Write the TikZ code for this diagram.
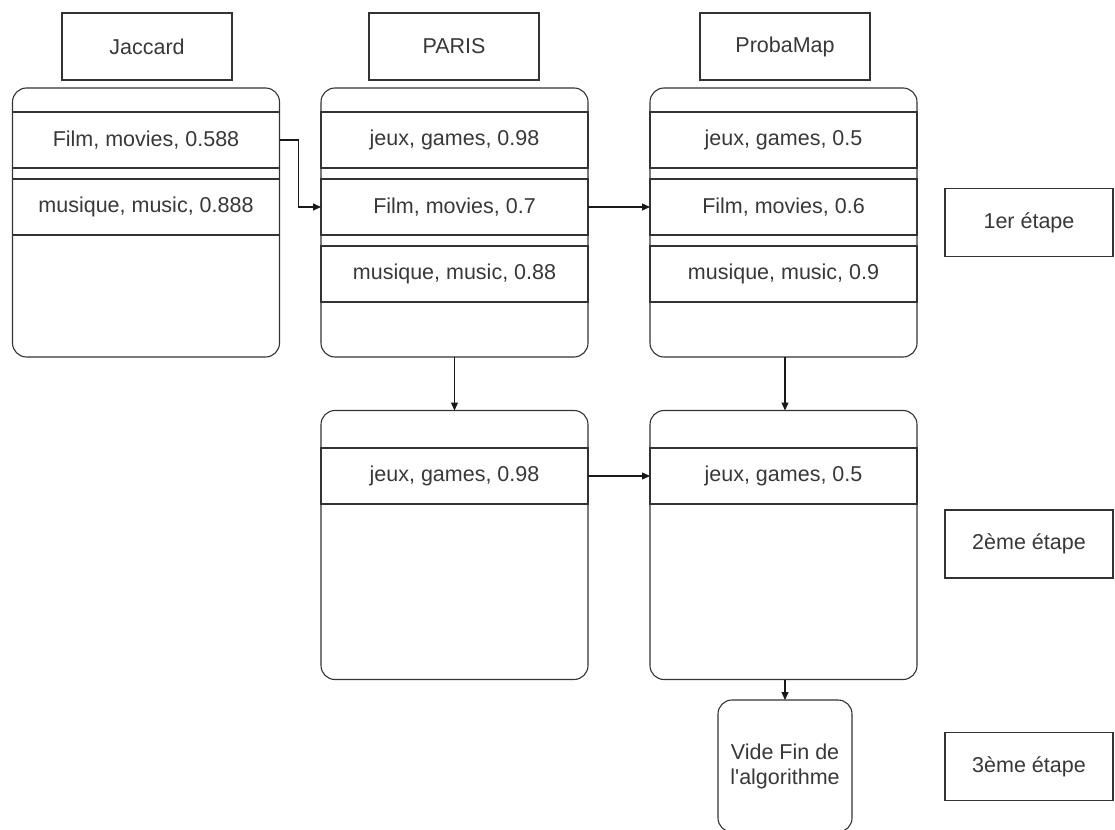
\documentclass[tikz,border=0pt]{standalone}
\usepackage{fontspec}
\setmainfont{Liberation Sans}[Ligatures=TeXOff]
\usetikzlibrary{arrows.meta}
\begin{document}
\begin{tikzpicture}[x=1pt,y=-1pt,
  every node/.style={inner sep=0pt, outer sep=0pt, text=black!78,
    font=\fontsize{21.5}{25}\selectfont, align=center},
  hdr/.style={draw=black!80, line width=1.1pt, minimum width=170pt, minimum height=67pt},
  panel/.style={draw=black!80, line width=1.1pt, rounded corners=14pt,
    minimum width=267pt, minimum height=269pt},
  row/.style={draw=black!80, line width=1.1pt, minimum width=267pt, minimum height=56pt},
  endbox/.style={draw=black!80, line width=1.1pt, rounded corners=14pt,
    minimum width=134pt, minimum height=132pt},
  stepbox/.style={draw=black!80, line width=1.1pt, minimum width=168pt, minimum height=68pt},
  conn/.style={draw=black!90, line width=1.1pt, -{Triangle[length=8pt,width=7pt]}}]
\useasboundingbox (0,0) rectangle (1115,829);
\clip (0,0) rectangle (1115,829);

% column headers
\node[hdr] (hj) at (147,46.5) {Jaccard};
\node[hdr] (hp) at (454,46.5) {PARIS};
\node[hdr] (hm) at (785,46.5) {ProbaMap};

% first step: Jaccard
\node[panel] (pj) at (146,222.5) {};
\node[row] (j1) at (146,140) {Film, movies, 0.588};
\node[row] (j2) at (146,207) {musique, music, 0.888};

% first step: PARIS
\node[panel] (pp) at (454.5,222.5) {};
\node[row] (p1) at (454.5,140) {jeux, games, 0.98};
\node[row] (p2) at (454.5,207) {Film, movies, 0.7};
\node[row] (p3) at (454.5,274) {musique, music, 0.88};

% first step: ProbaMap
\node[panel] (pm) at (783.5,222.5) {};
\node[row] (m1) at (783.5,140) {jeux, games, 0.5};
\node[row] (m2) at (783.5,207) {Film, movies, 0.6};
\node[row] (m3) at (783.5,274) {musique, music, 0.9};

% second step
\node[panel] (qp) at (454.5,545) {};
\node[row] (q1) at (454.5,476) {jeux, games, 0.98};
\node[panel] (qm) at (783.5,545) {};
\node[row] (r1) at (783.5,476) {jeux, games, 0.5};

% third step
\node[endbox] (fin) at (785,766) {Vide Fin de\\l'algorithme};

% step labels
\node[stepbox] (s1) at (1029,222.5) {1er étape};
\node[stepbox] (s2) at (1029,544) {2ème étape};
\node[stepbox] (s3) at (1029,766.5) {3ème étape};

% connectors
\draw[conn] (j1.east) -- ++(19,0) |- (p2.west);
\draw[conn] (p2.east) -- (m2.west);
\draw[conn] (pp.south) -- (qp.north);
\draw[conn] ([xshift=1.5pt]pm.south) -- ([xshift=1.5pt]qm.north);
\draw[conn] (q1.east) -- (r1.west);
\draw[conn] ([xshift=1.5pt]qm.south) -- (fin.north);
\end{tikzpicture}
\end{document}
